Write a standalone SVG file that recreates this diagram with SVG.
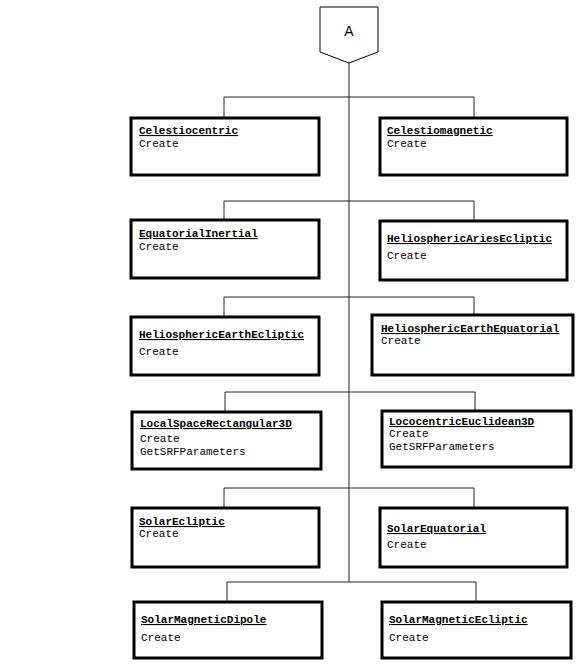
<svg xmlns="http://www.w3.org/2000/svg" width="587" height="669" viewBox="0 0 587 669">
<style>
.box{fill:#fff;stroke:#000;stroke-width:3}
.t{font-family:"Liberation Mono","DejaVu Sans Mono",monospace;font-size:11px;fill:#000}
.h{font-weight:bold;text-decoration:underline}
.c{fill:none;stroke:#222;stroke-width:1}
.root{fill:#fff;stroke:#000;stroke-width:1}
.rt{font-family:"Liberation Sans",Arial,sans-serif;font-size:14px;fill:#000}
</style>
<rect width="587" height="669" fill="#fff"/>
<g id="connectors">
<line class="c" x1="349" y1="63" x2="349" y2="582"/>
<polyline class="c" points="224,118 224,97 474,97 474,118"/>
<polyline class="c" points="224,220 224,201 474,201 474,221"/>
<polyline class="c" points="224,317 224,297 474,297 474,315"/>
<polyline class="c" points="225,412 225,392 475,392 475,411"/>
<polyline class="c" points="224,508 224,488 474,488 474,508"/>
<polyline class="c" points="227,602 227,582 476,582 476,602"/>
</g>
<g id="A">
<polygon class="root" points="320,7 378,7 378,52 349,63 320,52"/>
<text class="rt" x="349" y="36" text-anchor="middle">A</text>
</g>
<g id="Celestiocentric">
<rect class="box" x="131" y="118" width="188" height="57"/>
<text class="t h" x="139" y="134">Celestiocentric</text>
<text class="t" x="139" y="147">Create</text>
</g>
<g id="Celestiomagnetic">
<rect class="box" x="380" y="118" width="187" height="57"/>
<text class="t h" x="387" y="134">Celestiomagnetic</text>
<text class="t" x="387" y="147">Create</text>
</g>
<g id="EquatorialInertial">
<rect class="box" x="131" y="220" width="188" height="58"/>
<text class="t h" x="139" y="237">EquatorialInertial</text>
<text class="t" x="139" y="250">Create</text>
</g>
<g id="HeliosphericAriesEcliptic">
<rect class="box" x="380" y="221" width="187" height="59"/>
<text class="t h" x="387" y="242">HeliosphericAriesEcliptic</text>
<text class="t" x="387" y="259">Create</text>
</g>
<g id="HeliosphericEarthEcliptic">
<rect class="box" x="131" y="317" width="188" height="58"/>
<text class="t h" x="139" y="338">HeliosphericEarthEcliptic</text>
<text class="t" x="139" y="355">Create</text>
</g>
<g id="HeliosphericEarthEquatorial">
<rect class="box" x="372" y="315" width="201" height="60"/>
<text class="t h" x="381" y="332">HeliosphericEarthEquatorial</text>
<text class="t" x="381" y="344">Create</text>
</g>
<g id="LocalSpaceRectangular3D">
<rect class="box" x="132" y="412" width="189" height="57"/>
<text class="t h" x="140" y="427">LocalSpaceRectangular3D</text>
<text class="t" x="140" y="442">Create</text>
<text class="t" x="140" y="455">GetSRFParameters</text>
</g>
<g id="LococentricEuclidean3D">
<rect class="box" x="382" y="411" width="189" height="56"/>
<text class="t h" x="389" y="425">LococentricEuclidean3D</text>
<text class="t" x="389" y="437">Create</text>
<text class="t" x="389" y="450">GetSRFParameters</text>
</g>
<g id="SolarEcliptic">
<rect class="box" x="132" y="508" width="187" height="59"/>
<text class="t h" x="139" y="525">SolarEcliptic</text>
<text class="t" x="139" y="537">Create</text>
</g>
<g id="SolarEquatorial">
<rect class="box" x="380" y="508" width="187" height="59"/>
<text class="t h" x="387" y="532">SolarEquatorial</text>
<text class="t" x="387" y="548">Create</text>
</g>
<g id="SolarMagneticDipole">
<rect class="box" x="134" y="602" width="188" height="56"/>
<text class="t h" x="141" y="623">SolarMagneticDipole</text>
<text class="t" x="141" y="641">Create</text>
</g>
<g id="SolarMagneticEcliptic">
<rect class="box" x="382" y="602" width="189" height="56"/>
<text class="t h" x="389" y="623">SolarMagneticEcliptic</text>
<text class="t" x="389" y="641">Create</text>
</g>
</svg>
